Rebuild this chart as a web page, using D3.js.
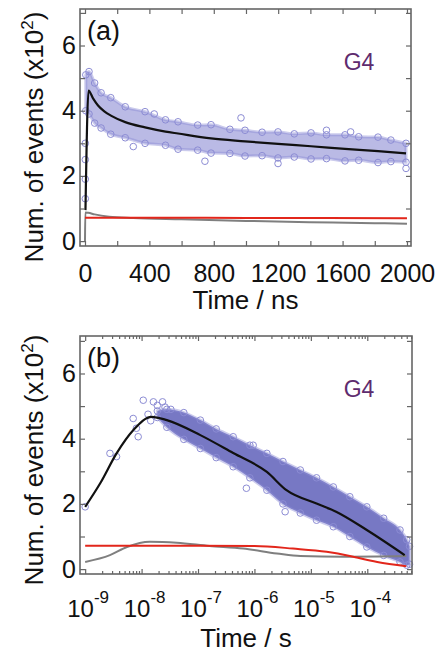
<!DOCTYPE html>
<html>
<head>
<meta charset="utf-8">
<script src="https://cdn.jsdelivr.net/npm/d3@7"></script>
<style>
  body { margin: 0; background: #fff; }
  text { font-family: "Liberation Sans", Arial, sans-serif; }
</style>
</head>
<body>
<svg width="444" height="655"></svg>
<script>
// ---- panel (a): time in ns, counts in units of 10^2 ----
const aFitT = [3, 22, 50, 81, 120, 161, 250, 373, 500, 578, 783, 994, 1199, 1404, 1615, 1820, 1994];
const aFitV = [0.95, 4.62, 4.38, 4.16, 3.98, 3.85, 3.65, 3.49, 3.36, 3.30, 3.15, 3.06, 2.98, 2.91, 2.83, 2.76, 2.69];
const aRedT = [0, 500, 1000, 1500, 2000];
const aRedV = [0.72, 0.72, 0.71, 0.71, 0.70];
const aGrayT = [0, 2, 20, 60, 150, 300, 600, 1000, 1400, 1800, 2000];
const aGrayV = [0.0, 0.88, 0.87, 0.82, 0.75, 0.71, 0.67, 0.62, 0.58, 0.55, 0.53];
// envelope of the data cloud
const aCloudT = [5, 25, 60, 100, 160, 250, 373, 500, 578, 700, 783, 900, 994, 1100, 1199, 1300, 1404, 1500, 1615, 1700, 1820, 1900, 1994];
const aCloudHi = [5.1, 5.2, 4.85, 4.55, 4.4, 4.12, 3.97, 3.72, 3.66, 3.56, 3.57, 3.43, 3.40, 3.34, 3.35, 3.29, 3.32, 3.26, 3.26, 3.20, 3.19, 3.10, 3.0];
const aCloudLo = [4.0, 3.9, 3.62, 3.47, 3.28, 3.17, 3.0, 2.94, 2.82, 2.79, 2.70, 2.69, 2.61, 2.62, 2.55, 2.58, 2.52, 2.53, 2.46, 2.48, 2.41, 2.44, 2.42];
// scattered single points
const aPtT = [2, 2, 2, 2, 969, 745, 1199, 1994, 430, 1500, 300, 1650];
const aPtV = [3.0, 2.5, 1.9, 1.3, 3.78, 2.45, 2.38, 2.23, 3.9, 3.4, 2.9, 3.35];

// ---- panel (b): time in s ----
const bFitT = [1e-9, 1.86e-9, 3.6e-9, 7.1e-9, 1.5e-8, 2.8e-8, 1.1e-7, 4.2e-7, 1.66e-6, 3.7e-6, 1.26e-5, 2.8e-5, 9.8e-5, 4.6e-4];
const bFitV = [1.91, 2.64, 3.55, 4.26, 4.67, 4.57, 4.11, 3.56, 2.98, 2.42, 2.01, 1.76, 1.20, 0.43];
const bRedT = [1e-9, 1e-7, 1e-6, 4.8e-6, 1.9e-5, 4.9e-5, 7.4e-5, 1.5e-4, 4.9e-4];
const bRedV = [0.72, 0.72, 0.71, 0.63, 0.53, 0.40, 0.33, 0.22, 0.09];
const bGrayT = [1e-9, 2.75e-9, 5.5e-9, 1.4e-8, 4.2e-8, 1.6e-7, 6.3e-7, 2.5e-6, 6.5e-6, 3.7e-5, 4.9e-4];
const bGrayV = [0.22, 0.43, 0.68, 0.84, 0.81, 0.71, 0.63, 0.48, 0.40, 0.38, 0.40];
const bCloudT = [1.9e-8, 2.8e-8, 5.6e-8, 1.1e-7, 2.1e-7, 4.2e-7, 8.3e-7, 1.66e-6, 3.2e-6, 6.5e-6, 1.26e-5, 2.5e-5, 4.9e-5, 9.8e-5, 1.95e-4, 3.8e-4, 5e-4, 5.6e-4];
const bCloudHi = [4.85, 4.9, 4.8, 4.57, 4.3, 4.06, 3.8, 3.55, 3.3, 3.04, 2.8, 2.52, 2.22, 1.91, 1.56, 1.2, 0.9, 0.7];
const bCloudLo = [4.65, 4.35, 3.98, 3.70, 3.42, 3.14, 2.8, 2.42, 2.0, 1.72, 1.5, 1.3, 1.0, 0.68, 0.42, 0.22, 0.12, 0.15];
const bPtT = [1e-9, 2.75e-9, 3.6e-9, 7.1e-9, 8.1e-9, 8.7e-9, 1.07e-8, 1.62e-8, 2.35e-8, 1.3e-8, 1.9e-8, 2.6e-8, 3.3e-8, 1.45e-8, 9.5e-7, 3.5e-6, 7.2e-7];
const bPtV = [1.91, 3.55, 3.45, 4.62, 4.32, 4.06, 5.18, 5.13, 5.13, 4.75, 5.02, 4.97, 4.9, 4.55, 3.80, 1.76, 2.48];

const yTicks = [0, 1, 2, 3, 4, 5, 6, 7];
const aMajor = [0, 400, 800, 1200, 1600, 2000];
const aMinor = [0, 200, 400, 600, 800, 1000, 1200, 1400, 1600, 1800, 2000];
const bExp = [-9, -8, -7, -6, -5, -4];

const cloudCol = "#8c8cd4";
const svg = d3.select("svg");

function zip(t, v) { return t.map((d, i) => ({ t: d, v: v[i] })); }

function drawPanel(cfg) {
  const x = cfg.x, y = cfg.y;
  const g = svg.append("g");
  const [x0, x1] = x.range(), [y1, y0] = y.range();

  // data cloud
  const cloud = cfg.cloudT.map((t, i) => ({ t: t, hi: cfg.cloudHi[i], lo: cfg.cloudLo[i] }));
  g.append("path").datum(cloud)
    .attr("d", d3.area().curve(d3.curveMonotoneX)
      .x(d => x(d.t)).y0(d => y(d.lo)).y1(d => y(d.hi)))
    .attr("fill", cfg.cloudFill)
    .attr("stroke", cloudCol).attr("stroke-width", 3).attr("stroke-opacity", 0.45);

  const pts = zip(cfg.ptT, cfg.ptV)
    .concat(zip(cfg.cloudT, cfg.cloudHi), zip(cfg.cloudT, cfg.cloudLo));
  g.selectAll(".pt").data(pts).enter().append("circle")
    .attr("cx", d => x(d.t)).attr("cy", d => y(d.v)).attr("r", 3.3)
    .attr("fill", "none").attr("stroke", cloudCol).attr("stroke-width", 1);

  const line = d3.line().curve(d3.curveMonotoneX).x(d => x(d.t)).y(d => y(d.v));
  g.append("path").datum(zip(cfg.grayT, cfg.grayV)).attr("d", line)
    .attr("fill", "none").attr("stroke", "#7f7f7f").attr("stroke-width", 2);
  g.append("path").datum(zip(cfg.redT, cfg.redV)).attr("d", line)
    .attr("fill", "none").attr("stroke", "#e2261b").attr("stroke-width", 2);
  g.append("path").datum(zip(cfg.fitT, cfg.fitV)).attr("d", line)
    .attr("fill", "none").attr("stroke", "#111").attr("stroke-width", 2.2);

  // y ticks on both sides
  g.append("g").attr("transform", `translate(${x0},0)`)
    .call(d3.axisLeft(y).tickValues(yTicks).tickSize(-5).tickSizeOuter(0).tickPadding(4)
      .tickFormat(d => d % 2 === 0 ? d : ""));
  g.append("g").attr("transform", `translate(${x1},0)`)
    .call(d3.axisRight(y).tickValues(yTicks).tickSize(-5).tickSizeOuter(0).tickFormat(""));

  // x ticks
  cfg.xTicks(g, y0, y1);

  g.selectAll(".domain").remove();
  g.selectAll(".tick line").attr("stroke", "#666").attr("stroke-width", 1.2);
  g.selectAll(".tick text").attr("font-family", null).attr("font-size", 25).attr("fill", "#111");

  g.append("rect").attr("x", x0).attr("y", y0).attr("width", x1 - x0).attr("height", y1 - y0)
    .attr("fill", "none").attr("stroke", "#666").attr("stroke-width", 1.6);

  // labels
  g.append("text").attr("x", x0 + 7).attr("y", y0 + 31).attr("font-size", 27).attr("fill", "#111")
    .text(cfg.tag);
  g.append("text").attr("x", 359).attr("y", y0 + 61).attr("text-anchor", "middle")
    .attr("font-size", 23).attr("fill", "#5e2b6e").attr("font-family", "'Open Sans', sans-serif")
    .text("G4");

  const yt = g.append("text")
    .attr("transform", `translate(43,${cfg.yTitleMid}) rotate(-90)`)
    .attr("text-anchor", "middle").attr("font-size", 26).attr("fill", "#111");
  yt.append("tspan").text("Num. of events (x10");
  yt.append("tspan").attr("dy", -10).attr("font-size", 17).text("2");
  yt.append("tspan").attr("dy", 10).text(")");

  g.append("text").attr("x", (x0 + x1) / 2).attr("y", cfg.xTitleY).attr("text-anchor", "middle")
    .attr("font-size", 26).attr("fill", "#111").text(cfg.xTitle);
}

// panel (a)
const xa = d3.scaleLinear().domain([-31, 2025]).range([80, 411]);
const ya = d3.scaleLinear().domain([-0.15, 7.12]).range([246, 9]);
drawPanel({
  x: xa, y: ya, tag: "(a)", xTitle: "Time / ns", xTitleY: 309, yTitleMid: 137,
  fitT: aFitT, fitV: aFitV, redT: aRedT, redV: aRedV, grayT: aGrayT, grayV: aGrayV,
  cloudT: aCloudT, cloudHi: aCloudHi, cloudLo: aCloudLo, ptT: aPtT, ptV: aPtV,
  cloudFill: "rgba(140,140,212,0.6)",
  xTicks: (g, top, bottom) => {
    g.append("g").attr("transform", `translate(0,${bottom})`)
      .call(d3.axisBottom(xa).tickValues(aMinor).tickSize(-5).tickSizeOuter(0).tickPadding(18)
        .tickFormat(d => aMajor.includes(d) ? d : ""));
    g.append("g").attr("transform", `translate(0,${top})`)
      .call(d3.axisTop(xa).tickValues(aMinor).tickSize(-5).tickSizeOuter(0).tickFormat(""));
  }
});

// panel (b)
const xb = d3.scaleLog().domain([8.1e-10, 6.2e-4]).range([80, 412]);
const yb = d3.scaleLinear().domain([-0.15, 7.15]).range([574, 336]);
const bMinor = [];
bExp.forEach(e => d3.range(2, 10).forEach(m => bMinor.push(m * Math.pow(10, e))));
const bMinorIn = bMinor.filter(v => v < 6.2e-4);
drawPanel({
  x: xb, y: yb, tag: "(b)", xTitle: "Time / s", xTitleY: 647, yTitleMid: 460,
  fitT: bFitT, fitV: bFitV, redT: bRedT, redV: bRedV, grayT: bGrayT, grayV: bGrayV,
  cloudT: bCloudT, cloudHi: bCloudHi, cloudLo: bCloudLo, ptT: bPtT, ptV: bPtV,
  cloudFill: "#7778c4",
  xTicks: (g, top, bottom) => {
    const majors = bExp.map(e => Math.pow(10, e));
    [[bottom, d3.axisBottom], [top, d3.axisTop]].forEach(([yy, ax]) => {
      g.append("g").attr("transform", `translate(0,${yy})`)
        .call(ax(xb).tickValues(majors).tickSize(-5).tickSizeOuter(0).tickFormat(""));
      g.append("g").attr("transform", `translate(0,${yy})`)
        .call(ax(xb).tickValues(bMinorIn).tickSize(-3).tickSizeOuter(0).tickFormat(""));
    });
    const lab = g.selectAll(".xlab").data(bExp).enter().append("text")
      .attr("x", e => xb(Math.pow(10, e)) + 3).attr("y", bottom + 43)
      .attr("text-anchor", "middle").attr("font-size", 24).attr("fill", "#111");
    lab.append("tspan").text("10");
    lab.append("tspan").attr("dy", -14).attr("font-size", 17).text(e => "-" + Math.abs(e));
  }
});
</script>
</body>
</html>
